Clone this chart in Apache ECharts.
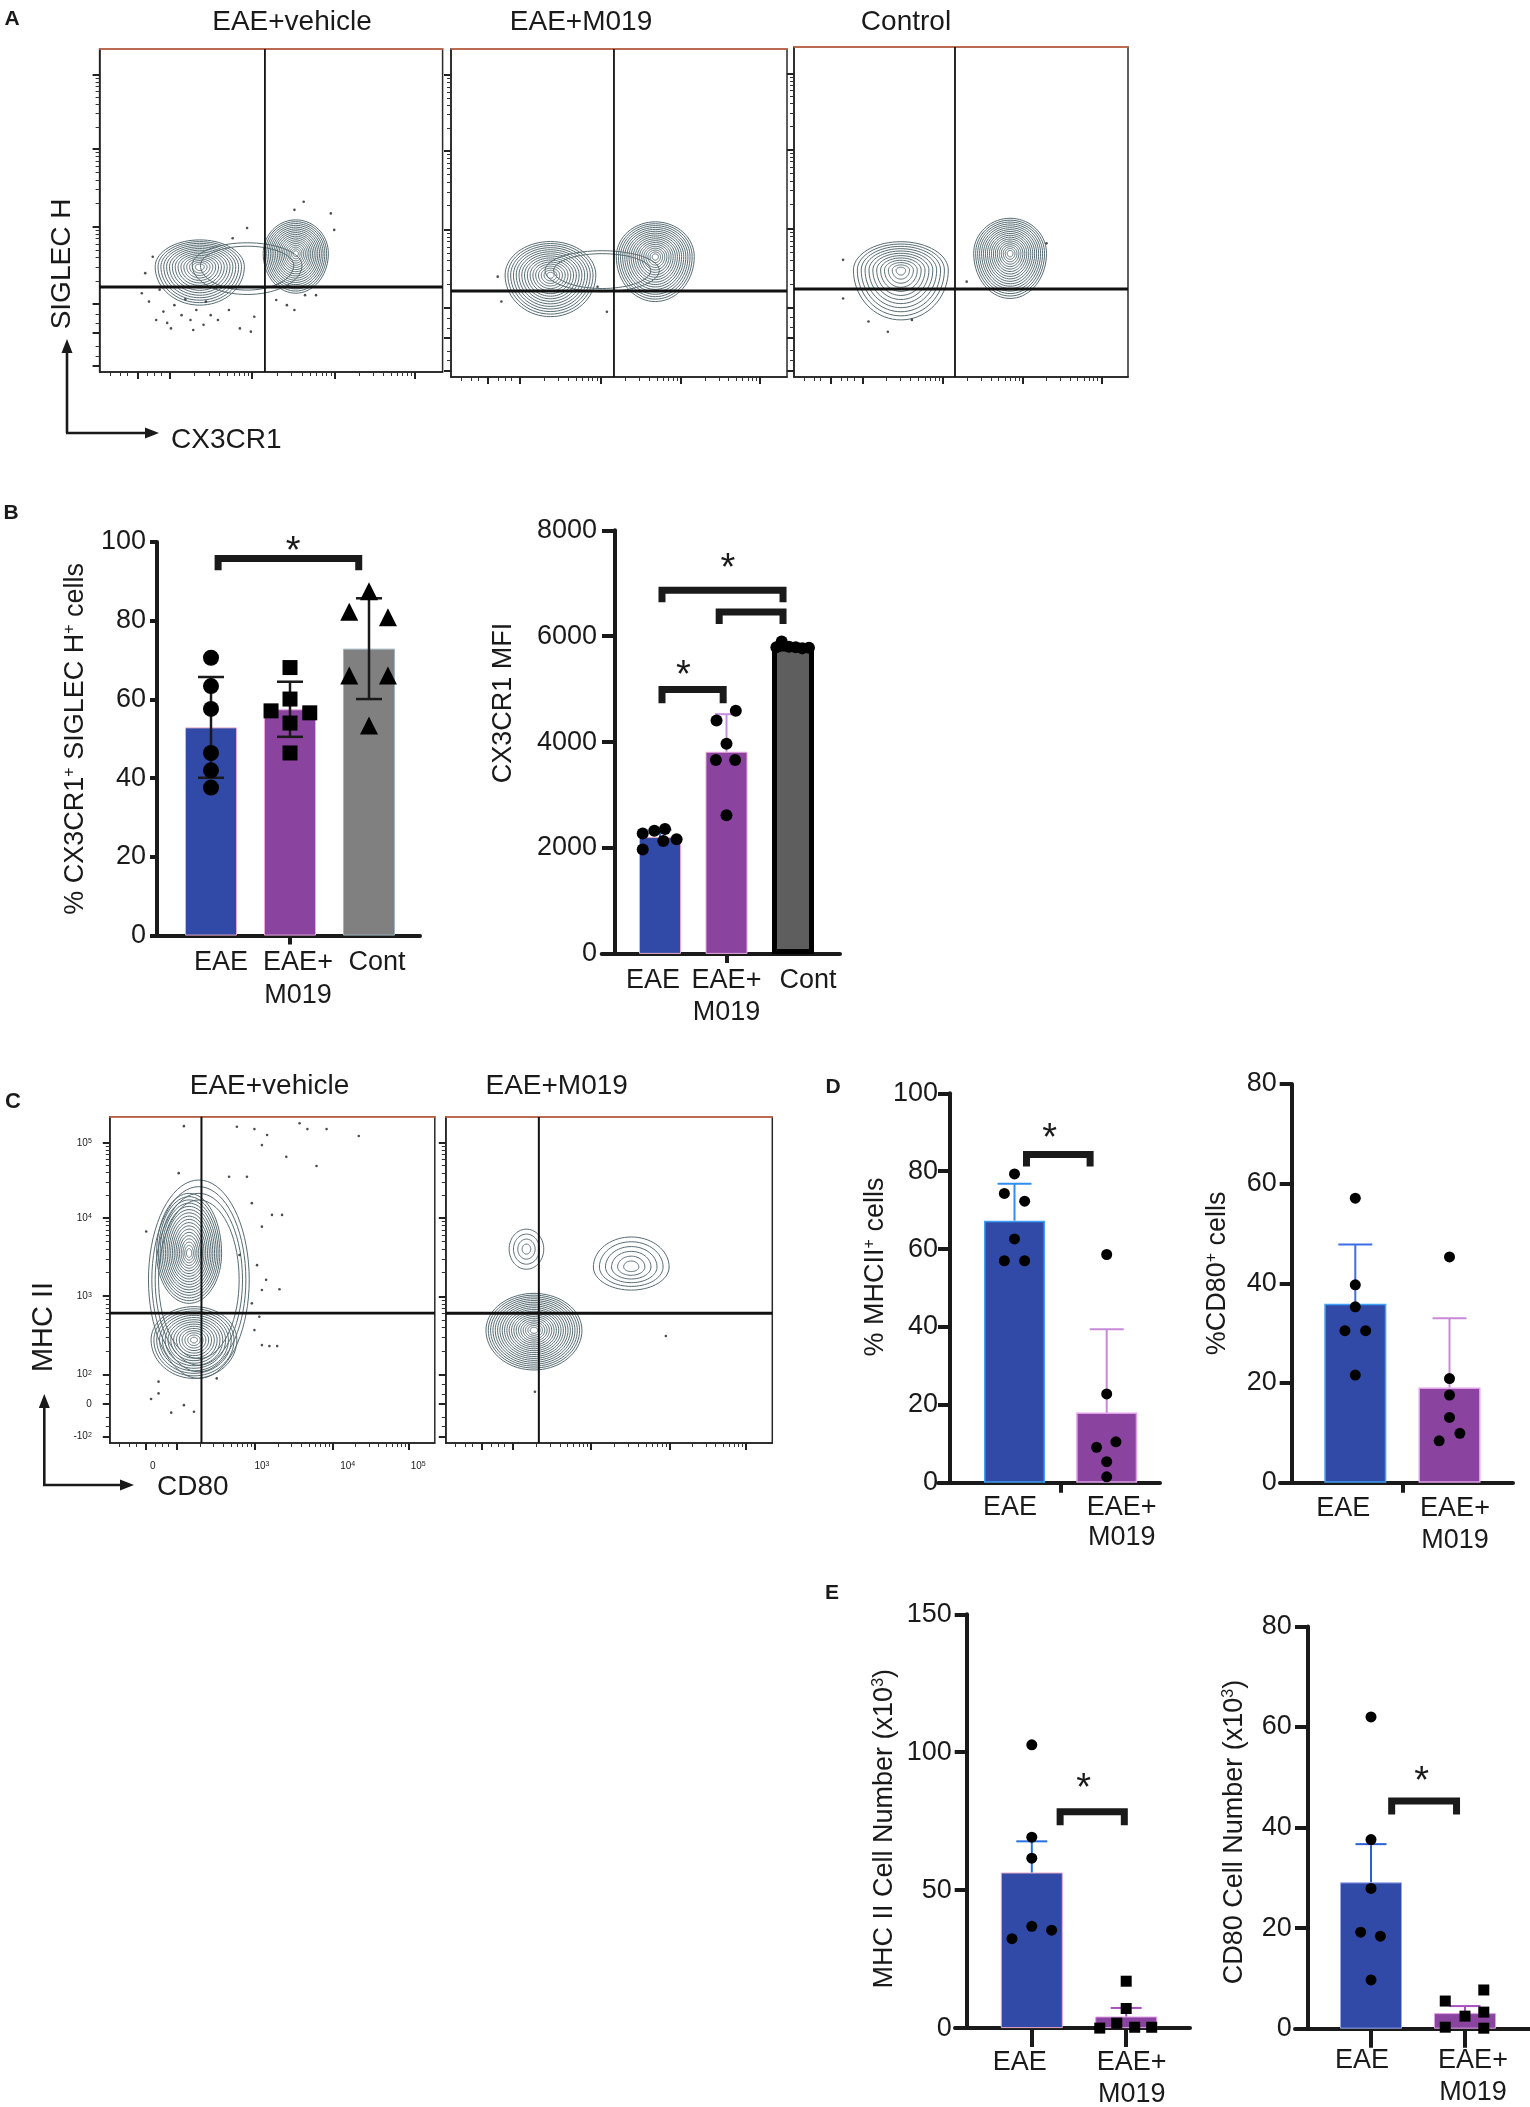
<!DOCTYPE html>
<html>
<head>
<meta charset="utf-8">
<title>M019 microglia figure</title>
<script src="https://cdn.jsdelivr.net/npm/echarts@6.0.0/dist/echarts.min.js"></script>
<style>
  html, body { margin: 0; padding: 0; background: #fff; }
  #chart { width: 1530px; height: 2107px; }
</style>
</head>
<body>
<div id="chart"></div>
<script>
// ---------------- values ----------------

// A / C flow plots: both axes in 0-100 plot units
// blob = [cx, cy, rx, ryUp, ryDown, rings, innerScale]
const popA1 = [
  [43, 33, 16, 7, 9, 2, 0.85],
  [29.2, 32.6, 13, 8.3, 11.9, 15, 0.1],
  [57.2, 36.7, 9.5, 10.4, 12.3, 18, 0.08]
];
const popA2 = [
  [45, 32.5, 17, 6, 6.5, 2, 0.85],
  [29.6, 31.1, 13.5, 10.2, 12.7, 16, 0.08],
  [60.8, 36.7, 11.6, 10.6, 13.7, 18, 0.08]
];
const popA3 = [
  [32, 32.4, 14.2, 8.6, 15.1, 12, 0.1],
  [64.7, 37.5, 10.9, 10.6, 13.7, 18, 0.08]
];
const popC1 = [
  [27.4, 50, 15.5, 30.6, 30.2, 4, 0.8],
  [24.4, 58.1, 10, 18.4, 15.3, 18, 0.08],
  [25.9, 31.6, 13.2, 10.2, 11.8, 15, 0.08]
];
const popC2 = [
  [24.7, 59.5, 5.3, 6.1, 6.2, 4, 0.25],
  [56.8, 54, 11.6, 9.2, 7.1, 6, 0.2],
  [27, 34.6, 14.7, 11.3, 12.2, 20, 0.08]
];

// sparse events
const dotsA1 = [[12.3,24.4],[14.4,21.8],[15.5,35.7],[16.5,16.1],[18.6,18.7],[20.8,13.5],[21.8,20.7],[23.9,17.6],
  [26.5,16.1],[28.2,19.2],[30.3,14.6],[32.4,17.6],[34.5,16.1],[37.7,19.2],[40.9,13.5],[44.1,12.5],[45.1,17.1],
  [51.5,22.3],[54.6,20.7],[56.8,19.2],[59.9,23.8],[63.1,23.8],[56.8,50.2],[59.5,52.7],[67.4,49.1],[68.4,44],
  [43,44.6],[13.3,30.6],[38.8,41.4],[17.5,25.5],[25,22.5],[31,21.8],[19.7,15.2],[27.3,13]];
const dotsA2 = [[13.9,30.6],[15,23],[46.4,19.9],[43.6,27.5]];
const dotsA3 = [[14.7,35.5],[22.3,16.8],[28.1,13.7],[35.3,17.3],[51.7,28.9],[75.6,40.5],[14.7,23.8]];
const dotsC1 = [[22.8,97.1],[39.1,96.9],[44.5,96.2],[48.4,94.4],[58.4,98],[60.8,96.2],[66.7,96.2],[76.6,94.1],
  [46.8,91.3],[54.3,87.7],[63.6,84.9],[36.7,81.6],[42.2,81.6],[43.7,73.5],[49.9,69.9],[53,69.9],[46.8,66.3],
  [39.9,57.6],[45.3,54.5],[48.1,50],[52.2,47.1],[46.8,46.9],[43.7,42.8],[46,38.7],[44.5,34.6],[46.8,30],
  [49.1,29.7],[51.5,29.7],[15,18.8],[15,15.2],[18.9,9.3],[22.8,11.6],[25.9,9.6],[12.7,13.5],[11.2,64.8],
  [21.2,82.7],[32.9,19.8]];
const dotsC2 = [[67.4,32.8],[27.3,15.7]];

// quadrant gates [x, y]
const gateA1 = [[48.2, 26.3]];
const gateA2 = [[48.5, 26.2]];
const gateA3 = [[48.2, 26.7]];
const gateC1 = [[28.2, 39.8]];
const gateC2 = [[28.5, 39.8]];

// biexponential tick marks / labels
const flowYDecades = [21, 45, 69, 92];
const flowXDecades = [20.5, 44.5, 68.5, 92];
const flowYMajor = [2, 12, 21, 45, 69, 92];
const flowXMajor = [11, 20.5, 44.5, 68.5, 92];
const flowYLinear = [5, 8, 15, 18];
const flowXLinear = [3, 6, 8, 14, 16, 18];
const cYLabelPos = [92, 69, 45, 21, 12, 2];
const cYLabelTxt = ['10{s|5}', '10{s|4}', '10{s|3}', '10{s|2}', '0', '-10{s|2}'];
const cXLabelPos = [13.2, 46.8, 73.2, 94.9];
const cXLabelTxt = ['0', '10{s|3}', '10{s|4}', '10{s|5}'];

// bar charts
const cat3 = ['EAE', 'EAE+\nM019', 'Cont'];
const cat2 = ['EAE', 'EAE+\nM019'];

// B left: % CX3CR1+ SIGLEC H+
const sigMean = [52.9, 57.5, 72.9];
const sigSd = [12.8, 7.0, 12.8];
const sigEAE = [70.6, 63.4, 57.6, 46.4, 42.0, 37.6];
const sigM019 = [68.1, 60.1, 57.1, 56.6, 54.0, 46.4];
const sigCont = [87.5, 82.3, 80.9, 66.1, 66.1, 53.4];
const sigJitEAE = [0, 0, 0, 0, 0, 0];
const sigJitM019 = [0, 0, -0.24, 0.25, 0, 0];
const sigJitCont = [0, -0.25, 0.24, -0.25, 0.24, 0];
const sigBrackets = [[0.09, 1.87, 95.8, 92.8]];
const sigStars = [[1.04, 99.4]];

// B right: CX3CR1 MFI
const mfiMean = [2206, 3818, 5805];
const mfiSd = [140, 709, 55];
const mfiEAE = [2275, 2328, 2361, 2166, 1971, 2133];
const mfiM019 = [4410, 4592, 3967, 3660, 3660, 2620];
const mfiCont = [5900, 5790, 5800, 5790, 5770, 5780];
const mfiJitEAE = [-0.26, -0.085, 0.075, 0.25, -0.26, 0.05];
const mfiJitM019 = [-0.15, 0.14, 0, -0.16, 0.13, 0];
const mfiJitCont = [-0.17, -0.25, -0.06, 0.04, 0.14, 0.24];
const mfiBrackets = [[0.03, 0.95, 4995, 4734], [0.03, 1.85, 6868, 6640], [0.89, 1.85, 6459, 6230]];
const mfiStars = [[0.35, 5385], [1.02, 7404]];

// D left: % MHCII+
const mhcPctMean = [67.3, 18.0];
const mhcPctSd = [9.5, 21.4];
const mhcPctEAE = [79.3, 74.3, 72.3, 62.6, 57.0, 57.0];
const mhcPctM019 = [58.6, 22.8, 10.5, 9.1, 5.4, 1.5];
const mhcPctJitEAE = [0, -0.11, 0.11, 0, -0.11, 0.11];
const mhcPctJitM019 = [0, 0, 0.1, -0.11, 0, 0];
const mhcPctBrackets = [[0.13, 0.82, 84.3, 81.2]];
const mhcPctStars = [[0.38, 90.1]];

// D right: % CD80+
const cd80PctMean = [35.9, 19.1];
const cd80PctSd = [11.9, 13.9];
const cd80PctEAE = [57.1, 39.7, 35.3, 30.5, 30.5, 21.6];
const cd80PctM019 = [45.3, 20.9, 17.6, 13.1, 9.9, 8.4];
const cd80PctJitEAE = [0, 0, 0, -0.11, 0.11, 0];
const cd80PctJitM019 = [0, 0, 0, 0, 0.11, -0.11];

// E left: MHC II cell number (x10^3)
const mhcNumMean = [56.4, 4.2];
const mhcNumSd = [11.3, 3.1];
const mhcNumEAE = [102.7, 69.2, 61.6, 36.9, 35.5, 32.4];
const mhcNumM019 = [17.0, 7.1, 0.0, 1.8, 0.3, 0.3];
const mhcNumJitEAE = [0, 0, 0, 0, 0.21, -0.21];
const mhcNumJitM019 = [0, 0, -0.28, -0.1, 0.09, 0.27];
const mhcNumBrackets = [[0.30, 0.98, 78.4, 73.5]];
const mhcNumStars = [[0.55, 89.3]];

// E right: CD80 cell number (x10^3)
const cd80NumMean = [29.1, 3.1];
const cd80NumSd = [7.6, 1.4];
const cd80NumEAE = [62.0, 37.6, 27.9, 19.2, 18.4, 9.7];
const cd80NumM019 = [7.7, 5.5, 2.5, 3.3, 0.3, 0.1];
const cd80NumJitEAE = [0, 0, 0, -0.11, 0.1, 0];
const cd80NumJitM019 = [0.2, -0.21, 0, 0.2, -0.21, 0.2];
const cd80NumBrackets = [[0.22, 0.91, 45.3, 42.6]];
const cd80NumStars = [[0.54, 50.5]];

// ---------------- drawing ----------------
const FONT = 'Arial, "Liberation Sans", Helvetica, sans-serif';
const INK = '#1a1a1a';
const BLUE = '#314aa8';
const PURPLE = '#8a44a0';
const CONTOUR = '#566b72';

const chart = echarts.init(document.getElementById('chart'), null, { renderer: 'canvas' });

const option = {
  animation: false,
  backgroundColor: '#ffffff',
  textStyle: { fontFamily: FONT },
  grid: [], xAxis: [], yAxis: [], series: [],
  graphic: { elements: [] }
};

function logMinor(decades) {
  const out = [];
  for (let d = 0; d < decades.length - 1; d++) {
    for (let k = 2; k <= 9; k++) out.push(decades[d] + (decades[d + 1] - decades[d]) * Math.log10(k));
  }
  return out;
}
const flowYMinor = flowYLinear.concat(logMinor(flowYDecades));
const flowXMinor = flowXLinear.concat(logMinor(flowXDecades));

function pickLabel(pos, txt) {
  return v => {
    const k = pos.findIndex(q => Math.abs(q - v) < 0.01);
    return k < 0 ? '' : txt[k];
  };
}

function contourItem(params, api) {
  const cx = api.value(0), cy = api.value(1), rx = api.value(2);
  const ru = api.value(3), rd = api.value(4), rings = api.value(5), s0 = api.value(6);
  const children = [];
  for (let r = 0; r < rings; r++) {
    const s = rings > 1 ? s0 + (1 - s0) * r / (rings - 1) : 1;
    const pts = [];
    for (let a = 0; a <= 72; a++) {
      const t = a / 72 * Math.PI * 2, sn = Math.sin(t);
      pts.push(api.coord([cx + s * rx * Math.cos(t), cy + s * (sn > 0 ? ru : rd) * sn]));
    }
    children.push({ type: 'polyline', shape: { points: pts }, style: { stroke: CONTOUR, lineWidth: 1, fill: null } });
  }
  return { type: 'group', children };
}

function flowPanel(p) {
  const gi = option.grid.length;
  option.grid.push({
    left: p.l, top: p.t, width: p.r - p.l, height: p.b - p.t, outerBoundsMode: 'none',
    show: true, borderColor: '#2a2a2a', borderWidth: 1.5, backgroundColor: 'transparent'
  });
  const xi = option.xAxis.length, yi = option.yAxis.length;
  const base = { gridIndex: gi, type: 'value', min: 0, max: 100, splitLine: { show: false } };
  const smallRich = { s: { fontSize: 7, fontFamily: FONT, color: INK, verticalAlign: 'top' } };

  option.xAxis.push(Object.assign({}, base, {
    position: 'bottom',
    axisLine: { show: true, onZero: false, lineStyle: { color: '#222', width: 1.5 } },
    axisTick: { show: true, customValues: flowXMajor, length: 7, lineStyle: { color: '#222', width: 2 } },
    axisLabel: p.labels
      ? { show: true, customValues: cXLabelPos, formatter: pickLabel(cXLabelPos, cXLabelTxt), margin: 18,
          fontSize: 10, color: INK, rich: smallRich, hideOverlap: false }
      : { show: false }
  }));
  option.xAxis.push(Object.assign({}, base, {
    position: 'bottom', axisLine: { show: false, onZero: false },
    axisTick: { show: true, customValues: flowXMinor, length: 4, lineStyle: { color: '#333', width: 1 } },
    axisLabel: { show: false }
  }));
  option.xAxis.push(Object.assign({}, base, {
    position: 'top', axisLine: { show: true, onZero: false, lineStyle: { color: '#d9704f', width: 1.5 } },
    axisTick: { show: false }, axisLabel: { show: false }
  }));

  option.yAxis.push(Object.assign({}, base, {
    position: 'left',
    axisLine: { show: true, onZero: false, lineStyle: { color: '#222', width: 1.5 } },
    axisTick: { show: true, customValues: flowYMajor, length: 7, lineStyle: { color: '#222', width: 2 } },
    axisLabel: p.labels
      ? { show: true, customValues: cYLabelPos, formatter: pickLabel(cYLabelPos, cYLabelTxt), margin: 18,
          fontSize: 10, color: INK, rich: smallRich, hideOverlap: false }
      : { show: false }
  }));
  option.yAxis.push(Object.assign({}, base, {
    position: 'left', axisLine: { show: false, onZero: false },
    axisTick: { show: true, customValues: flowYMinor, length: 4, lineStyle: { color: '#333', width: 1 } },
    axisLabel: { show: false }
  }));

  option.series.push({
    type: 'custom', xAxisIndex: xi, yAxisIndex: yi, z: 2,
    dimensions: ['cx', 'cy', 'rx', 'ru', 'rd', 'rings', 's0'], encode: { x: 0, y: 1 },
    data: p.pops, renderItem: contourItem
  });
  option.series.push({
    type: 'scatter', xAxisIndex: xi, yAxisIndex: yi, z: 3, symbolSize: 2.6,
    itemStyle: { color: '#222' }, data: p.dots
  });
  option.series.push({
    type: 'custom', xAxisIndex: xi, yAxisIndex: yi, z: 4, data: p.gate,
    renderItem: (params, api) => {
      const gx = api.value(0), gy = api.value(1);
      const v0 = api.coord([gx, 0]), v1 = api.coord([gx, 100]);
      const h0 = api.coord([0, gy]), h1 = api.coord([100, gy]);
      return { type: 'group', children: [
        { type: 'line', shape: { x1: v0[0], y1: v0[1], x2: v1[0], y2: v1[1] }, style: { stroke: '#111', lineWidth: p.gateW[0] } },
        { type: 'line', shape: { x1: h0[0], y1: h0[1], x2: h1[0], y2: h1[1] }, style: { stroke: '#111', lineWidth: p.gateW[1] } }
      ] };
    }
  });
}

function barPanel(p) {
  const gi = option.grid.length;
  option.grid.push({ left: p.x0, top: p.top, width: p.x1 - p.x0, height: p.bottom - p.top, outerBoundsMode: 'none' });
  const xi = option.xAxis.length, yi = option.yAxis.length;

  // category labels sit a little off the bar centres in the original
  const labelAt = p.cats.map((c, i) => i + p.labelShift[i] / p.step);

  option.xAxis.push({
    gridIndex: gi, type: 'value', position: 'bottom',
    min: (p.x0 - p.c0) / p.step, max: (p.x1 - p.c0) / p.step,
    splitLine: { show: false },
    axisLine: { show: true, onZero: false, lineStyle: { color: INK, width: 4 } },
    axisTick: { show: true, customValues: p.xTicks, length: p.xTickLen, lineStyle: { color: INK, width: 4 } },
    axisLabel: {
      show: true, customValues: labelAt, margin: p.xLabelMargin, hideOverlap: false,
      fontSize: 27, lineHeight: p.lineH, fontFamily: FONT, color: INK,
      formatter: v => p.cats[Math.round(v)] || ''
    }
  });
  option.yAxis.push({
    gridIndex: gi, type: 'value', position: 'left', min: 0, max: p.max, interval: p.interval,
    offset: p.x0 - p.yAxisX,
    splitLine: { show: false },
    axisLine: { show: true, onZero: false, lineStyle: { color: INK, width: 4 } },
    axisTick: { show: true, length: p.yTickLen, lineStyle: { color: INK, width: 4 } },
    axisLabel: { fontSize: 27, fontFamily: FONT, color: INK, margin: p.yLabelMargin, formatter: v => String(v) },
    name: p.name, nameLocation: 'middle', nameRotate: 90, nameGap: p.nameGap,
    nameTextStyle: {
      fontSize: 27, fontFamily: FONT, color: INK, padding: p.namePad,
      rich: { s: { fontSize: 16, fontFamily: FONT, color: INK, verticalAlign: 'top' } }
    }
  });

  option.series.push({
    type: 'bar', xAxisIndex: xi, yAxisIndex: yi, barWidth: p.barWidth, z: 2,
    data: p.mean.map((m, i) => ({
      value: [i, m],
      itemStyle: { color: p.colors[i], borderColor: p.borders[i], borderWidth: p.borderW[i] }
    }))
  });

  option.series.push({
    type: 'custom', xAxisIndex: xi, yAxisIndex: yi, z: 3,
    data: p.mean.map((m, i) => [i, m, p.sd[i]]),
    renderItem: (params, api) => {
      const i = api.value(0), m = api.value(1), s = api.value(2);
      const top = api.coord([i, m + s]);
      const bot = api.coord([i, p.errBoth ? m - s : m]);
      const w = p.capW / 2;
      const st = { stroke: p.errColors[params.dataIndex], lineWidth: p.errW };
      const ch = [
        { type: 'line', shape: { x1: top[0], y1: top[1], x2: bot[0], y2: bot[1] }, style: st },
        { type: 'line', shape: { x1: top[0] - w, y1: top[1], x2: top[0] + w, y2: top[1] }, style: st }
      ];
      if (p.errBoth) ch.push({ type: 'line', shape: { x1: bot[0] - w, y1: bot[1], x2: bot[0] + w, y2: bot[1] }, style: st });
      return { type: 'group', children: ch };
    }
  });

  p.groups.forEach(g => {
    option.series.push({
      type: 'scatter', xAxisIndex: xi, yAxisIndex: yi, z: 4,
      symbol: g.symbol, symbolSize: g.size, itemStyle: { color: '#000', opacity: 1 },
      data: g.vals.map((v, k) => [g.cat + g.jit[k], v])
    });
  });

  if (p.brackets) {
    option.series.push({
      type: 'custom', xAxisIndex: xi, yAxisIndex: yi, z: 5, data: p.brackets,
      renderItem: (params, api) => {
        const a = api.coord([api.value(0), api.value(3)]);
        const b = api.coord([api.value(0), api.value(2)]);
        const c = api.coord([api.value(1), api.value(2)]);
        const d = api.coord([api.value(1), api.value(3)]);
        return { type: 'polyline', shape: { points: [a, b, c, d] },
          style: { stroke: INK, lineWidth: 7, fill: null, lineJoin: 'miter', lineCap: 'butt' } };
      }
    });
  }
  if (p.stars) {
    option.series.push({
      type: 'custom', xAxisIndex: xi, yAxisIndex: yi, z: 5, data: p.stars,
      renderItem: (params, api) => {
        const pt = api.coord([api.value(0), api.value(1)]);
        return { type: 'text', x: pt[0], y: pt[1] + 8,
          style: { text: '*', fontSize: 38, fontFamily: FONT, fill: INK,
            align: 'center', verticalAlign: 'middle', textAlign: 'center', textVerticalAlign: 'middle' } };
      }
    });
  }
}

// ----- panel A -----
flowPanel({ l: 99.6, r: 442.6, t: 49, b: 372, pops: popA1, dots: dotsA1, gate: gateA1, gateW: [1.8, 3], labels: false });
flowPanel({ l: 451, r: 787, t: 49, b: 377, pops: popA2, dots: dotsA2, gate: gateA2, gateW: [1.8, 3], labels: false });
flowPanel({ l: 794, r: 1128, t: 47, b: 377, pops: popA3, dots: dotsA3, gate: gateA3, gateW: [1.8, 3], labels: false });

// ----- panel C -----
flowPanel({ l: 109.8, r: 434.8, t: 1116.7, b: 1443, pops: popC1, dots: dotsC1, gate: gateC1, gateW: [2, 2.8], labels: true });
flowPanel({ l: 445.8, r: 772.3, t: 1117, b: 1443, pops: popC2, dots: dotsC2, gate: gateC2, gateW: [2, 2.8], labels: false });

// ----- panel B -----
barPanel({
  x0: 153, x1: 420, yAxisX: 157, c0: 211, step: 79, top: 542, bottom: 935.6,
  max: 100, interval: 20, yTickLen: 7, yLabelMargin: 11,
  xTicks: [1], xTickLen: 9, xLabelMargin: 11, lineH: 32.7, labelShift: [10, 8, 8],
  cats: cat3, name: '% CX3CR1{s|+} SIGLEC H{s|+} cells', nameGap: 68, namePad: 0,
  mean: sigMean, sd: sigSd, barWidth: 52,
  colors: [BLUE, PURPLE, '#808080'], borders: ['#e8a8c8', '#e8a8e0', '#9fb4c0'], borderW: [1, 1, 1],
  errBoth: true, errColors: [INK, INK, INK], capW: 26, errW: 2.5,
  groups: [
    { cat: 0, vals: sigEAE, jit: sigJitEAE, symbol: 'circle', size: 16 },
    { cat: 1, vals: sigM019, jit: sigJitM019, symbol: 'rect', size: 15 },
    { cat: 2, vals: sigCont, jit: sigJitCont, symbol: 'triangle', size: 18 }
  ],
  brackets: sigBrackets, stars: sigStars
});
barPanel({
  x0: 601.7, x1: 840, yAxisX: 615, c0: 660, step: 66.5, top: 530.3, bottom: 953.9,
  max: 8000, interval: 2000, yTickLen: 13, yLabelMargin: 18,
  xTicks: [1], xTickLen: 9, xLabelMargin: 10, lineH: 32.7, labelShift: [-7, 0, 15],
  cats: cat3, name: 'CX3CR1 MFI', nameGap: 98, namePad: [0, 0, 0, 78],
  mean: mfiMean, sd: mfiSd, barWidth: 42,
  colors: [BLUE, PURPLE, '#5e5e5e'], borders: ['#e8a8c8', '#e8a8e0', '#000000'], borderW: [1, 1, 5],
  errBoth: false, errColors: ['#3c6ee0', '#c58ee0', INK], capW: 23, errW: 2,
  groups: [
    { cat: 0, vals: mfiEAE, jit: mfiJitEAE, symbol: 'circle', size: 12 },
    { cat: 1, vals: mfiM019, jit: mfiJitM019, symbol: 'circle', size: 12 },
    { cat: 2, vals: mfiCont, jit: mfiJitCont, symbol: 'circle', size: 12 }
  ],
  brackets: mfiBrackets, stars: mfiStars
});

// ----- panel D -----
barPanel({
  x0: 938, x1: 1160, yAxisX: 950, c0: 1014.5, step: 92.2, top: 1093.3, bottom: 1482.7,
  max: 100, interval: 20, yTickLen: 12, yLabelMargin: 12,
  xTicks: [0.5], xTickLen: 10, xLabelMargin: 10, lineH: 30, labelShift: [-4.5, 15],
  cats: cat2, name: '% MHCII{s|+} cells', nameGap: 51, namePad: [0, 0, 0, 42],
  mean: mhcPctMean, sd: mhcPctSd, barWidth: 61,
  colors: [BLUE, PURPLE], borders: ['#3fa0f5', '#e0a0e8'], borderW: [1.5, 1.5],
  errBoth: false, errColors: ['#2e8ff0', '#c88ad8'], capW: 34, errW: 2,
  groups: [
    { cat: 0, vals: mhcPctEAE, jit: mhcPctJitEAE, symbol: 'circle', size: 11 },
    { cat: 1, vals: mhcPctM019, jit: mhcPctJitM019, symbol: 'circle', size: 11 }
  ],
  brackets: mhcPctBrackets, stars: mhcPctStars
});
barPanel({
  x0: 1280, x1: 1513, yAxisX: 1291.7, c0: 1355.3, step: 94.2, top: 1084, bottom: 1482.7,
  max: 80, interval: 20, yTickLen: 12, yLabelMargin: 15,
  xTicks: [0.5], xTickLen: 10, xLabelMargin: 10, lineH: 31.6, labelShift: [-12, 5.5],
  cats: cat2, name: '%CD80{s|+} cells', nameGap: 61, namePad: [0, 0, 0, 20],
  mean: cd80PctMean, sd: cd80PctSd, barWidth: 62,
  colors: [BLUE, PURPLE], borders: ['#3fa0f5', '#e0a0e8'], borderW: [1.5, 1.5],
  errBoth: false, errColors: ['#3d6ee8', '#c88ad8'], capW: 34, errW: 2,
  groups: [
    { cat: 0, vals: cd80PctEAE, jit: cd80PctJitEAE, symbol: 'circle', size: 11 },
    { cat: 1, vals: cd80PctM019, jit: cd80PctJitM019, symbol: 'circle', size: 11 }
  ]
});

// ----- panel E -----
barPanel({
  x0: 955, x1: 1190, yAxisX: 966.7, c0: 1031.8, step: 94.4, top: 1614.3, bottom: 2028.1,
  max: 150, interval: 50, yTickLen: 12, yLabelMargin: 15,
  xTicks: [0, 1], xTickLen: 19, xLabelMargin: 18, lineH: 32, labelShift: [-12, 5.5],
  cats: cat2, name: 'MHC II Cell Number (x10{s|3})', nameGap: 69, namePad: [0, 15, 0, 0],
  mean: mhcNumMean, sd: mhcNumSd, barWidth: 62,
  colors: [BLUE, PURPLE], borders: ['#e8a8c8', '#e0a0e8'], borderW: [1, 1],
  errBoth: false, errColors: ['#2870e0', '#a850c0'], capW: 31, errW: 2,
  groups: [
    { cat: 0, vals: mhcNumEAE, jit: mhcNumJitEAE, symbol: 'circle', size: 11 },
    { cat: 1, vals: mhcNumM019, jit: mhcNumJitM019, symbol: 'rect', size: 11 }
  ],
  brackets: mhcNumBrackets, stars: mhcNumStars
});
barPanel({
  x0: 1295, x1: 1530, yAxisX: 1307.7, c0: 1371, step: 94, top: 1626.4, bottom: 2028.7,
  max: 80, interval: 20, yTickLen: 12.7, yLabelMargin: 16,
  xTicks: [0, 1], xTickLen: 19, xLabelMargin: 16, lineH: 32, labelShift: [-9, 8],
  cats: cat2, name: 'CD80 Cell Number (x10{s|3})', nameGap: 60, namePad: [0, 9, 0, 0],
  mean: cd80NumMean, sd: cd80NumSd, barWidth: 62,
  colors: [BLUE, PURPLE], borders: ['#9aa8f0', '#e0a0e8'], borderW: [1, 1],
  errBoth: false, errColors: ['#2a5fd8', '#a850c0'], capW: 31, errW: 2,
  groups: [
    { cat: 0, vals: cd80NumEAE, jit: cd80NumJitEAE, symbol: 'circle', size: 11 },
    { cat: 1, vals: cd80NumM019, jit: cd80NumJitM019, symbol: 'rect', size: 11 }
  ],
  brackets: cd80NumBrackets, stars: cd80NumStars
});

// ----- free text, panel letters, axis arrows -----
function txt(x, y, text, size, extra) {
  const el = {
    type: 'text', x, y, z: 100,
    style: {
      text, fontSize: size, fontFamily: FONT, fill: INK,
      align: 'center', verticalAlign: 'middle', textAlign: 'center', textVerticalAlign: 'middle'
    }
  };
  if (extra && extra.style) Object.assign(el.style, extra.style);
  if (extra && extra.rotation) el.rotation = extra.rotation;
  return el;
}
function arrow(x0, y0, x1, y1) {
  const dx = x1 - x0, dy = y1 - y0, len = Math.hypot(dx, dy);
  const ux = dx / len, uy = dy / len, hl = 14, hw = 5.5;
  const bx = x1 - ux * hl, by = y1 - uy * hl;
  return [
    { type: 'line', z: 100, shape: { x1: x0, y1: y0, x2: bx, y2: by }, style: { stroke: INK, lineWidth: 2.6 } },
    { type: 'polygon', z: 100, shape: { points: [[x1, y1], [bx - uy * hw, by + ux * hw], [bx + uy * hw, by - ux * hw]] },
      style: { fill: INK } }
  ];
}
const bold = { style: { fontWeight: 'bold' } };
const up = { rotation: Math.PI / 2 };
option.graphic.elements.push(
  txt(12, 19, 'A', 21, bold), txt(11, 513, 'B', 21, bold), txt(13, 1102, 'C', 22, bold),
  txt(833, 1087, 'D', 21, bold), txt(832, 1593, 'E', 21, bold),
  txt(292, 22, 'EAE+vehicle', 28), txt(581, 22, 'EAE+M019', 28), txt(906, 22, 'Control', 28),
  txt(269.5, 1086, 'EAE+vehicle', 28), txt(556.7, 1086, 'EAE+M019', 28),
  txt(62, 264, 'SIGLEC H', 28, up),
  txt(171, 440, 'CX3CR1', 28, { style: { align: 'left', textAlign: 'left' } }),
  txt(44, 1327, 'MHC II', 29, up),
  txt(157, 1487, 'CD80', 28, { style: { align: 'left', textAlign: 'left' } }),
  ...arrow(67, 433, 67, 339), ...arrow(66, 433, 159, 433),
  ...arrow(44.3, 1485, 44.3, 1394), ...arrow(43, 1485, 134, 1485)
);

chart.setOption(option);
</script>
</body>
</html>
